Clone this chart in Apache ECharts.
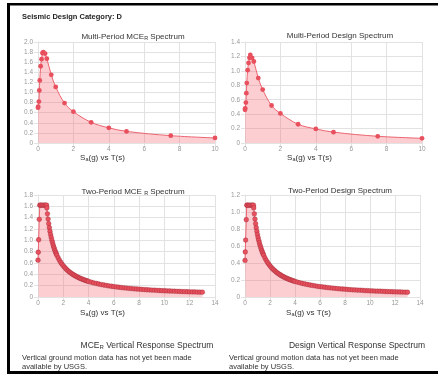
<!DOCTYPE html>
<html>
<head>
<meta charset="utf-8">
<script src="https://cdn.jsdelivr.net/npm/echarts@6/dist/echarts.min.js"></script>
<style>
  html, body { margin: 0; padding: 0; background: #fff; }
  #chart { width: 438px; height: 375px; }
</style>
</head>
<body>
<div id="chart"></div>
<script>
// multi-period spectra
const mpPeriods = [0, 0.01, 0.05, 0.075, 0.1, 0.15, 0.2, 0.25, 0.3, 0.4, 0.5, 0.75, 1, 1.5, 2, 3, 4, 5, 7.5, 10];
const mpMce = [0.70, 0.72, 0.82, 1.04, 1.24, 1.52, 1.66, 1.78, 1.80, 1.77, 1.67, 1.35, 1.11, 0.79, 0.62, 0.41, 0.30, 0.23, 0.145, 0.10];
const mpDesign = [0.46, 0.48, 0.56, 0.69, 0.83, 1.01, 1.11, 1.18, 1.22, 1.18, 1.13, 0.90, 0.74, 0.52, 0.41, 0.26, 0.195, 0.15, 0.093, 0.065];

// two-period spectra
const tpPeriods = [0, 0.02, 0.05, 0.1, 0.14, 0.2, 0.3, 0.4, 0.5, 0.6, 0.68,
  0.70, 0.75, 0.80, 0.85, 0.90, 0.95, 1.00, 1.05, 1.10, 1.15, 1.20, 1.25, 1.30, 1.35, 1.40, 1.45, 1.50,
  1.6, 1.7, 1.8, 1.9, 2.0, 2.1, 2.2, 2.3, 2.4, 2.5, 2.6, 2.7, 2.8, 2.9, 3.0, 3.1, 3.2, 3.3, 3.4, 3.5, 3.6, 3.7, 3.8, 3.9, 4.0,
  4.2, 4.4, 4.6, 4.8, 5.0, 5.2, 5.4, 5.6, 5.8, 6.0, 6.2, 6.4, 6.6, 6.8, 7.0, 7.2, 7.4, 7.6, 7.8, 8.0,
  8.2, 8.4, 8.6, 8.8, 9.0, 9.2, 9.4, 9.6, 9.8, 10.0, 10.2, 10.4, 10.6, 10.8, 11.0, 11.2, 11.4, 11.6, 11.8, 12.0,
  12.2, 12.4, 12.6, 12.8, 13.0];
const tpMce = [0.65, 0.79, 1.01, 1.37, 1.62, 1.62, 1.62, 1.62, 1.62, 1.62, 1.62,
  1.571, 1.467, 1.375, 1.294, 1.222, 1.158, 1.100, 1.048, 1.000, 0.957, 0.917, 0.880, 0.846, 0.815, 0.786, 0.759, 0.733,
  0.688, 0.647, 0.611, 0.579, 0.550, 0.524, 0.500, 0.478, 0.458, 0.440, 0.423, 0.407, 0.393, 0.379, 0.367, 0.355, 0.344, 0.333, 0.324, 0.314, 0.306, 0.297, 0.289, 0.282, 0.275,
  0.262, 0.250, 0.239, 0.229, 0.220, 0.212, 0.204, 0.196, 0.190, 0.183, 0.177, 0.172, 0.167, 0.162, 0.157, 0.153, 0.149, 0.145, 0.141, 0.138,
  0.134, 0.131, 0.128, 0.125, 0.122, 0.120, 0.117, 0.115, 0.112, 0.110, 0.108, 0.106, 0.104, 0.102, 0.100, 0.098, 0.096, 0.095, 0.093, 0.092,
  0.090, 0.089, 0.087, 0.086, 0.085];
const tpDesign = [0.43, 0.53, 0.67, 0.91, 1.08, 1.08, 1.08, 1.08, 1.08, 1.08, 1.08,
  1.048, 0.978, 0.917, 0.863, 0.815, 0.772, 0.733, 0.698, 0.667, 0.638, 0.611, 0.587, 0.564, 0.543, 0.524, 0.506, 0.489,
  0.458, 0.431, 0.407, 0.386, 0.367, 0.349, 0.333, 0.319, 0.306, 0.293, 0.282, 0.272, 0.262, 0.253, 0.244, 0.237, 0.229, 0.222, 0.216, 0.209, 0.204, 0.198, 0.193, 0.188, 0.183,
  0.175, 0.167, 0.159, 0.153, 0.147, 0.141, 0.136, 0.131, 0.126, 0.122, 0.118, 0.115, 0.111, 0.108, 0.105, 0.102, 0.099, 0.096, 0.094, 0.092,
  0.089, 0.087, 0.085, 0.083, 0.081, 0.080, 0.078, 0.076, 0.075, 0.073, 0.072, 0.070, 0.069, 0.068, 0.067, 0.065, 0.064, 0.063, 0.062, 0.061,
  0.060, 0.059, 0.058, 0.057, 0.056];

const yMax = [2.0, 1.4, 1.8, 1.2];
const xMax = [10, 10, 14, 14];

const FONT = '"Liberation Sans", Arial, sans-serif';
const subRich = {
  sub: { fontSize: 5.5, fontFamily: FONT, color: '#333', verticalAlign: 'bottom', padding: [3, 0, 0, 0] }
};

const chart = echarts.init(document.getElementById('chart'), null, {renderer: 'canvas'});

const grids = [
  {left: 38, top: 42, width: 177, height: 101},
  {left: 245, top: 42, width: 177, height: 101},
  {left: 38, top: 195, width: 177, height: 102},
  {left: 245, top: 195, width: 175, height: 102}
];

function pairs(xs, ys) {
  return xs.map((x, i) => [x, ys[i]]);
}

const axisGray = '#e2e2e2';
const xAxes = xMax.map((mx, i) => ({
  type: 'value', gridIndex: i, min: 0, max: mx, interval: 2,
  name: 'S{s|a}(g) vs T(s)', nameLocation: 'middle', nameGap: i < 2 ? 9 : 11,
  nameTextStyle: {fontSize: 8, fontFamily: FONT, color: '#333', padding: [0, 48, 0, 0],
    rich: {s: {fontSize: 5.5, fontFamily: FONT, color: '#333', verticalAlign: 'bottom', padding: [3, 0, 0, 0]}}},
  axisLine: {lineStyle: {color: axisGray}},
  axisTick: {show: true, length: 4, lineStyle: {color: axisGray}},
  axisLabel: {fontSize: 6.5, fontFamily: FONT, color: '#999', margin: 3},
  splitLine: {lineStyle: {color: axisGray}}
}));
const yAxes = yMax.map((mx, i) => ({
  type: 'value', gridIndex: i, min: 0, max: mx, interval: 0.2,
  axisLine: {show: true, lineStyle: {color: axisGray}},
  axisTick: {show: true, length: 4, lineStyle: {color: axisGray}},
  axisLabel: {fontSize: 6.5, fontFamily: FONT, color: '#999', margin: 5,
    formatter: v => v === 0 ? '0' : v.toFixed(1)},
  splitLine: {lineStyle: {color: axisGray}}
}));

function spectrum(idx, data, dense) {
  return {
    type: 'line', xAxisIndex: idx, yAxisIndex: idx, data: data,
    smooth: dense ? false : 0.35,
    symbol: 'circle', symbolSize: 4.8,
    showAllSymbol: true,
    itemStyle: {color: '#e8505e', borderColor: dense ? 'rgba(120,20,30,0.45)' : '#e8505e', borderWidth: dense ? 0.6 : 0},
    lineStyle: {color: '#ec6470', width: 1},
    areaStyle: {color: 'rgba(244,92,104,0.44)'},
    animation: false
  };
}

const titleStyle = {fontSize: 8, fontWeight: 'normal', fontFamily: FONT, color: '#333', rich: subRich};

chart.setOption({
  backgroundColor: '#fff',
  animation: false,
  title: [
    {text: 'Seismic Design Category: D', left: 22, top: 13, padding: 0,
      textStyle: {fontSize: 7.5, fontWeight: 'bold', fontFamily: FONT, color: '#222'}},
    {text: 'Multi-Period MCE{sub|R} Spectrum', left: 133, top: 32, padding: 0, textAlign: 'center', textStyle: titleStyle},
    {text: 'Multi-Period Design Spectrum', left: 340, top: 32, padding: 0, textAlign: 'center', textStyle: titleStyle},
    {text: 'Two-Period MCE {sub|R} Spectrum', left: 133, top: 187, padding: 0, textAlign: 'center', textStyle: titleStyle},
    {text: 'Two-Period Design Spectrum', left: 340, top: 187, padding: 0, textAlign: 'center', textStyle: titleStyle}
  ],
  grid: grids,
  xAxis: xAxes,
  yAxis: yAxes,
  series: [
    spectrum(0, pairs(mpPeriods, mpMce), false),
    spectrum(1, pairs(mpPeriods, mpDesign), false),
    spectrum(2, pairs(tpPeriods, tpMce), true),
    spectrum(3, pairs(tpPeriods, tpDesign), true)
  ],
  graphic: [
    {type: 'rect', shape: {x: 7, y: 3, width: 431, height: 2.5}, style: {fill: '#000'}},
    {type: 'rect', shape: {x: 7, y: 3, width: 3, height: 371}, style: {fill: '#000'}},
    {type: 'rect', shape: {x: 7, y: 371, width: 431, height: 3}, style: {fill: '#000'}},
    {type: 'text', style: {text: 'MCE{sub|R} Vertical Response Spectrum', x: 147, y: 346, textAlign: 'center', textVerticalAlign: 'middle',
      font: '8.5px ' + FONT, fill: '#333', rich: {sub: {fontSize: 6, fontFamily: FONT, fill: '#333', verticalAlign: 'bottom', padding: [3, 0, 0, 0]}}}},
    {type: 'text', style: {text: 'Design Vertical Response Spectrum', x: 357, y: 346, textAlign: 'center', textVerticalAlign: 'middle',
      font: '8.5px ' + FONT, fill: '#333'}},
    {type: 'text', style: {text: 'Vertical ground motion data has not yet been made\navailable by USGS.', x: 22, y: 353,
      font: '7.5px ' + FONT, fill: '#333', lineHeight: 9}},
    {type: 'text', style: {text: 'Vertical ground motion data has not yet been made\navailable by USGS.', x: 229, y: 353,
      font: '7.5px ' + FONT, fill: '#333', lineHeight: 9}}
  ]
});
</script>
</body>
</html>
